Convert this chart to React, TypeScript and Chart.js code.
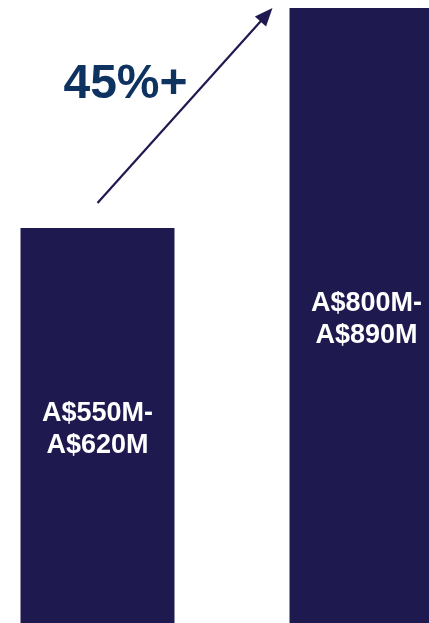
import React, { useEffect, useRef } from "react";
import { Chart, registerables } from "chart.js";

Chart.register(...registerables);

const categories: string[] = ["Current", "Target"];
const barHeights: number[] = [63.4, 98.7];
const barLabels: string[][] = [
  ["A$550M-", "A$620M"],
  ["A$800M-", "A$890M"],
];
const growthLabel = "45%+";

const BAR_COLOR = "#1E1A50";
const GROWTH_COLOR = "#0F3361";
const FONT = '"Liberation Sans", Arial, sans-serif';

const overlayPlugin = {
  id: "overlay",
  afterDatasetsDraw(chart: any) {
    const ctx = chart.ctx as CanvasRenderingContext2D;
    const meta = chart.getDatasetMeta(0);
    const bars = meta.data as any[];
    if (bars.length < 2) return;
    ctx.save();
    // labels inside bars
    ctx.fillStyle = "#FFFFFF";
    const fs = 27;
    ctx.font = `bold ${fs}px ${FONT}`;
    ctx.textAlign = "center";
    ctx.textBaseline = "alphabetic";
    const lh = 31.5;
    const capHalf = 0.716 * fs * 0.5;
    bars.forEach((b, i) => {
      const lines = barLabels[i];
      const cy = (b.y + b.base) / 2 + 2;
      const start = cy - ((lines.length - 1) * lh) / 2;
      lines.forEach((t, k) => ctx.fillText(t, b.x, start + k * lh + capHalf));
    });
    // arrow
    const b1 = bars[0];
    const b2 = bars[1];
    const x0 = b1.x;
    const y0 = b1.y - 25;
    const x1 = b2.x - b2.width / 2 - 17;
    const y1 = b2.y;
    const ang = Math.atan2(y1 - y0, x1 - x0);
    const headLen = 18;
    const headW = 7.5;
    const bx = x1 - headLen * Math.cos(ang);
    const by = y1 - headLen * Math.sin(ang);
    ctx.strokeStyle = BAR_COLOR;
    ctx.lineWidth = 2.2;
    ctx.beginPath();
    ctx.moveTo(x0, y0);
    ctx.lineTo(bx + 2 * Math.cos(ang), by + 2 * Math.sin(ang));
    ctx.stroke();
    ctx.fillStyle = BAR_COLOR;
    ctx.beginPath();
    ctx.moveTo(x1, y1);
    ctx.lineTo(bx + headW * Math.sin(ang), by - headW * Math.cos(ang));
    ctx.lineTo(bx - headW * Math.sin(ang), by + headW * Math.cos(ang));
    ctx.closePath();
    ctx.fill();
    // growth label
    ctx.fillStyle = GROWTH_COLOR;
    ctx.font = `bold 48px ${FONT}`;
    ctx.textAlign = "center";
    ctx.textBaseline = "alphabetic";
    ctx.fillText(growthLabel, b1.x + 28, 98);
    ctx.restore();
  },
};

export default function App() {
  const ref = useRef<HTMLCanvasElement | null>(null);
  useEffect(() => {
    if (!ref.current) return;
    const chart = new Chart(ref.current, {
      type: "bar",
      data: {
        labels: categories,
        datasets: [
          {
            data: barHeights,
            backgroundColor: BAR_COLOR,
            borderWidth: 0,
            barPercentage: 154 / 269,
            categoryPercentage: 1,
          },
        ],
      },
      options: {
        responsive: false,
        maintainAspectRatio: false,
        animation: false,
        layout: { padding: 0 },
        plugins: {
          legend: { display: false },
          tooltip: { enabled: false },
          title: { display: false },
        },
        scales: {
          x: { display: false, offset: true, grid: { display: false } },
          y: { display: false, min: 0, max: 100, grid: { display: false } },
        },
      },
      plugins: [overlayPlugin],
    });
    return () => chart.destroy();
  }, []);
  return (
    <div
      style={{
        position: "fixed",
        left: -37,
        top: 0,
        width: 538,
        height: 623,
        background: "#FFFFFF",
      }}
    >
      <canvas ref={ref} width={538} height={623} style={{ display: "block" }} />
    </div>
  );
}
